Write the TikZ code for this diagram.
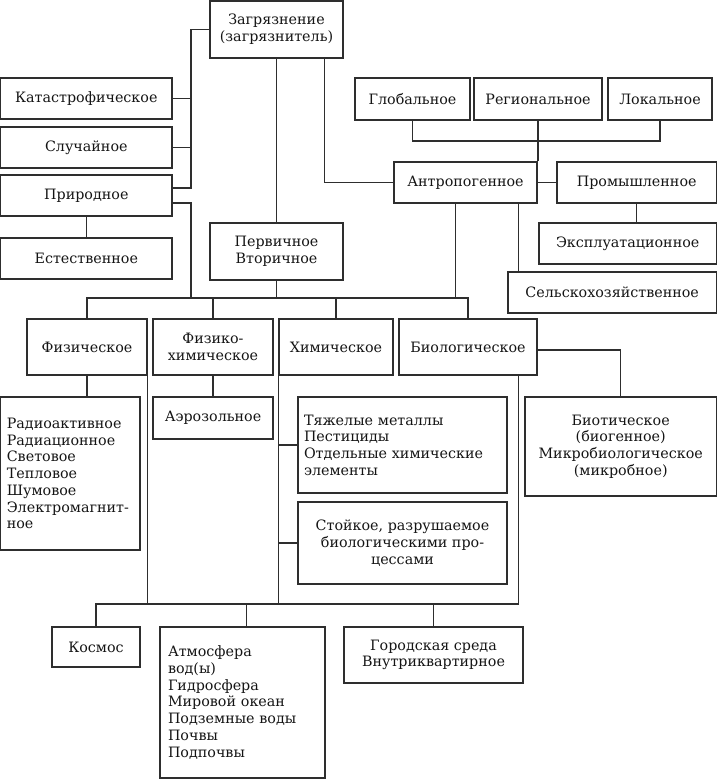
\documentclass[tikz,border=0pt]{standalone}
\usepackage{fontspec}
\setmainfont{DejaVu Serif}
\usetikzlibrary{calc}
\definecolor{linec}{HTML}{2E2E2E}
\definecolor{txtc}{HTML}{141414}
\tikzset{
  box/.style={draw=linec,line width=1.2pt,inner sep=0pt,align=center,text=txtc,
    font=\fontsize{14.3}{16.7}\selectfont},
  lbox/.style={align=left,text width=#1},
  conn/.style={draw=linec,line width=1.2pt}
}
\newcommand\bx[7]{\node[box,minimum width={(#4-#2)*1pt},minimum height={(#5-#3)*1pt},#6] (#1) at ({(#2+#4)/2},{(#3+#5)/2}) {#7};}
\begin{document}
\begin{tikzpicture}[x=1pt,y=-1pt]
\useasboundingbox (0,0) rectangle (717,779);
% boxes
\bx{zag}{210}{1}{343}{58}{}{Загрязнение\\(загрязнитель)}
\bx{kat}{0.6}{78}{172}{119}{}{Катастрофическое}
\bx{slu}{0.6}{127}{172}{168}{}{Случайное}
\bx{pri}{0.6}{175}{172}{216}{}{Природное}
\bx{est}{0.6}{238}{172}{279}{}{Естественное}
\bx{per}{210}{223}{343}{280}{}{Первичное\\Вторичное}
\bx{glo}{355}{78}{470}{120}{}{Глобальное}
\bx{reg}{474}{78}{602}{120}{}{Региональное}
\bx{lok}{608}{78}{712}{120}{}{Локальное}
\bx{ant}{394}{162}{537}{203}{}{Антропогенное}
\bx{prom}{557}{162}{716.4}{203}{}{Промышленное}
\bx{eks}{539}{223}{716.4}{264}{}{Эксплуатационное}
\bx{sel}{508}{272}{716.4}{313}{}{Сельскохозяйственное}
\bx{fiz}{27}{319}{147}{375}{}{Физическое}
\bx{fhim}{153}{319}{273}{375}{}{Физико-\\химическое}
\bx{him}{279}{319}{393}{375}{}{Химическое}
\bx{bio}{399}{319}{537}{375}{}{Биологическое}
\bx{rad}{0.6}{397}{140}{550}{lbox=127pt}{Радиоактивное\\Радиационное\\Световое\\Тепловое\\Шумовое\\Электромагнит-\\ное}
\bx{aer}{153}{397}{273}{439}{}{Аэрозольное}
\bx{tyazh}{298}{397}{507}{493}{lbox=197pt}{Тяжелые металлы\\Пестициды\\Отдельные химические\\элементы}
\bx{stoi}{298}{502}{507}{584}{}{Стойкое, разрушаемое\\биологическими про-\\цессами}
\bx{biot}{525}{397}{716.4}{496}{}{Биотическое\\(биогенное)\\Микробиологическое\\(микробное)}
\bx{kos}{52}{627}{140}{667}{}{Космос}
\bx{atm}{160}{627}{325}{778}{lbox=149pt}{Атмосфера\\вод(ы)\\Гидросфера\\Мировой океан\\Подземные воды\\Почвы\\Подпочвы}
\bx{gor}{344}{627}{523}{683}{}{Городская среда\\Внутриквартирное}
% helper coordinates
\coordinate (lb) at (191,0);
\coordinate (gb) at (0,141);
\coordinate (mb) at (0,298);
\coordinate (bb) at (0,604);
% left upper bus
\draw[conn] (zag.west) -| (191,188) -- ($(pri.east)+(0,-7.5)$);
\draw[conn] (kat.east) -- (kat.east -| lb);
\draw[conn] (slu.east) -- (slu.east -| lb);
\draw[conn] ($(pri.east)+(0,7.5)$) -| (lb |- mb);
\draw[conn] (pri.south) -- (est.north);
% centre
\draw[conn] (zag.south) -- (per.north);
\draw[conn] (per.south) -- (per.south |- mb);
\draw[conn] ($(zag.south west)+(115,0)$) |- (ant.west);
% scale bus
\draw[conn] (glo.south) -- (glo.south |- gb) -- (lok.south |- gb) -- (lok.south);
\draw[conn] (reg.south) -- (reg.south |- ant.north);
% anthropogenic
\draw[conn] (ant.east) -- (prom.west);
\draw[conn] (prom.south) -- (prom.south |- eks.north);
\draw[conn] ($(ant.south east)+(-19,0)$) coordinate (a1) -- (a1 |- sel.north);
\draw[conn] ($(ant.south west)+(62,0)$) coordinate (a2) -- (a2 |- mb);
% middle bus
\draw[conn] (fiz.north) -- (fiz.north |- mb) -- (bio.north |- mb) -- (bio.north);
\draw[conn] (fhim.north) -- (fhim.north |- mb);
\draw[conn] (him.north) -- (him.north |- mb);
% below kinds
\draw[conn] (fiz.south) -- (fiz.south |- rad.north);
\draw[conn] (fhim.south) -- (aer.north);
\draw[conn] ($(bio.east)+(0,3)$) -| (biot.north);
\draw[conn] (fiz.south east) -- (fiz.south east |- bb);
\draw[conn] (him.south west) -- (him.south west |- bb);
\draw[conn] (tyazh.west) -- (tyazh.west -| him.south west);
\draw[conn] (stoi.west) -- (stoi.west -| him.south west);
% bottom bus
\draw[conn] ($(bio.south east)+(-19,0)$) coordinate (b1) -- (b1 |- bb) -- (kos.north |- bb) -- (kos.north);
\draw[conn] ($(atm.north)+(4,0)$) coordinate (b2) -- (b2 |- bb);
\draw[conn] (gor.north) -- (gor.north |- bb);
\end{tikzpicture}
\end{document}
